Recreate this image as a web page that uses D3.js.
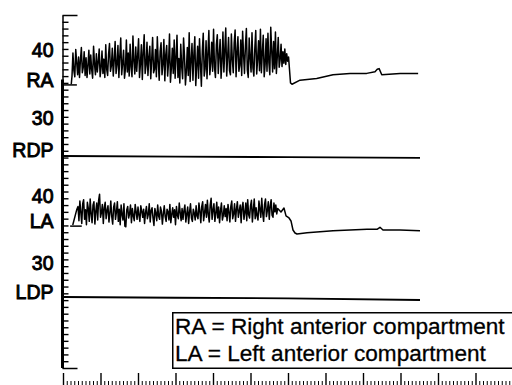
<!DOCTYPE html>
<html>
<head>
<meta charset="utf-8">
<script src="https://cdn.jsdelivr.net/npm/d3@7"></script>
<style>
  html, body { margin: 0; padding: 0; background: #fff; }
  svg { display: block; }
  text { font-family: "Liberation Sans", Arial, Helvetica, sans-serif; fill: #000; }
</style>
</head>
<body>
<figure id="trace" style="margin:0"></figure>
<script>
// time axis in minutes, one major tick each minute
const majorTicks = d3.range(0, 13);
const minorTicks = d3.range(0, 120).map(d => d / 10).filter(d => d % 1 !== 0);

// RA channel (right anterior), mmHg
const raStart = [[0, 34.9], [0.37, 34.9]];
const raNoiseT0 = 0.24, raNoiseDt = 0.025;
const raNoise = [
  36.2, 39.6, 37.0, 36.1, 40.1, 38.2, 36.4, 39.0, 36.0, 38.6, 40.4, 36.7, 37.5, 39.8, 36.3, 38.9,
  36.0, 37.8, 40.0, 36.5, 39.3, 37.1, 35.9, 40.6, 38.0, 36.4, 39.5, 36.8, 38.3, 40.2, 36.1, 37.4,
  39.9, 36.6, 38.7, 36.0, 40.8, 37.2, 36.3, 39.4, 41.0, 36.9, 37.7, 40.3, 36.2, 38.5, 41.3, 36.6,
  37.9, 40.7, 36.0, 39.2, 41.8, 36.4, 38.1, 40.0, 35.9, 37.3, 41.5, 36.8, 39.6, 36.2, 40.9, 37.6,
  36.1, 42.1, 38.4, 36.5, 40.5, 36.9, 39.1, 41.7, 36.0, 38.0, 40.8, 35.7, 39.7, 42.3, 36.6, 37.8,
  41.2, 36.3, 39.0, 40.6, 35.8, 38.6, 41.9, 36.7, 37.2, 40.1, 36.1, 42.0, 38.3, 35.6, 39.8, 41.1,
  36.4, 37.9, 41.6, 35.5, 39.3, 40.7, 36.2, 38.2, 42.4, 35.3, 37.4, 40.3, 36.6, 41.5, 35.9, 39.0,
  42.2, 36.0, 38.8, 35.2, 40.9, 37.6, 35.8, 41.8, 39.1, 34.9, 37.0, 40.4, 36.3, 42.6, 35.4, 38.5,
  41.0, 35.6, 39.4, 42.0, 34.8, 37.7, 40.6, 35.9, 41.7, 38.0, 34.7, 39.9, 42.5, 36.2, 37.3, 41.4,
  35.8, 39.6, 42.9, 36.4, 38.1, 41.2, 36.9, 43.1, 37.5, 36.0, 40.8, 42.3, 36.6, 39.2, 41.6, 35.9,
  38.4, 42.7, 36.8, 40.1, 43.3, 36.2, 39.0, 41.9, 37.0, 36.4, 42.4, 38.6, 36.7, 41.1, 43.0, 36.1,
  39.7, 42.0, 36.9, 37.8, 41.5, 36.3, 42.8, 39.3, 36.6, 40.7, 43.2, 37.1, 36.0, 41.8, 38.9, 36.8,
  42.6, 37.4, 36.2, 40.3, 42.9, 36.5, 38.7, 41.4, 37.0, 43.1, 36.7, 39.6, 42.2, 36.1, 37.9, 41.7,
  36.9, 42.5, 38.2, 36.4, 43.4, 40.0, 36.8, 41.3, 37.3, 42.7, 36.6, 39.1, 41.9, 37.5, 38.6, 40.9,
  37.6, 39.8, 38.1, 40.2, 37.9, 39.5, 38.4, 39.0
];
const raTail = [
  [6.067, 35.2], [6.107, 35.0], [6.32, 35.6], [6.765, 35.85], [7.2, 36.4],
  [7.653, 36.6], [8.1, 36.6], [8.32, 36.85], [8.38, 37.2], [8.43, 37.3],
  [8.5, 36.4], [8.99, 36.6], [9.47, 36.6]
];
const rdp = [[0, 24.43], [3, 24.35], [6, 24.25], [9.52, 24.14]];

// LA channel (left anterior), mmHg
const laStart = [[0.19, 35.5], [0.5, 35.5]];
const laRamp = [[0.26, 35.67], [0.365, 37.9]];
const laNoiseT0 = 0.4, laNoiseDt = 0.025;
const laNoise = [
  38.4, 36.3, 39.2, 37.6, 35.9, 38.8, 39.4, 36.5, 37.9, 35.7, 39.0, 38.1, 36.2, 39.5, 37.3, 36.0,
  38.6, 39.1, 35.8, 37.7, 38.9, 36.4, 39.3, 40.2, 36.8, 37.5, 38.7, 35.9, 38.2, 39.0, 36.6, 37.8,
  38.5, 36.1, 37.4, 39.2, 36.9, 35.8, 38.3, 38.9, 36.5, 37.6, 39.1, 36.2, 38.0, 35.7, 38.6, 37.2,
  36.4, 38.8, 35.5, 35.4, 37.9, 38.4, 36.7, 37.3, 38.6, 36.0, 38.1, 37.0, 36.3, 38.7, 37.6, 36.5,
  38.3, 37.1, 36.2, 38.5, 37.7, 36.8, 38.0, 35.9, 37.5, 38.4, 36.6, 37.2, 38.8, 36.1, 37.8, 38.2,
  36.7, 35.6, 38.1, 37.4, 36.3, 38.6, 37.0, 36.5, 38.3, 37.7, 35.8, 37.3, 38.5, 36.9, 36.2, 38.0,
  37.6, 36.4, 38.7, 36.0, 37.2, 38.2, 36.8, 37.9, 35.7, 38.4, 37.1, 36.6, 38.9, 37.5, 36.3, 38.1,
  36.5, 37.8, 38.6, 36.1, 37.3, 38.3, 35.9, 37.6, 38.8, 36.7, 36.2, 38.0, 37.4, 36.4, 38.5, 37.0,
  36.6, 38.9, 37.7, 36.0, 38.4, 39.1, 36.3, 37.5, 38.7, 36.8, 39.3, 37.2, 36.1, 38.6, 39.6, 36.5,
  37.9, 38.8, 36.2, 37.4, 39.0, 36.7, 38.3, 36.0, 37.8, 38.9, 36.4, 37.1, 38.5, 36.9, 38.1, 36.3,
  38.7, 37.6, 36.1, 38.4, 39.2, 36.6, 37.3, 38.8, 36.2, 38.0, 39.1, 36.8, 37.7, 38.6, 36.0, 38.3,
  39.0, 36.5, 37.5, 38.9, 36.3, 39.4, 37.2, 36.7, 38.5, 39.3, 36.1, 37.9, 39.5, 36.6, 38.2, 37.0,
  36.4, 39.2, 38.0, 36.8, 39.6, 37.4, 36.2, 38.7, 39.5, 36.9, 37.8, 39.1, 36.5, 38.4, 39.4, 37.1,
  36.8, 38.9, 37.6, 38.6, 37.3, 38.1
];
const laTail = [
  [5.813, 37.58], [5.893, 38.17], [5.947, 37.0], [6.027, 36.7], [6.08, 36.26],
  [6.133, 34.93], [6.187, 34.49], [6.24, 34.34], [6.507, 34.53], [6.853, 34.68],
  [7.2, 34.83], [7.653, 34.93], [8.107, 35.03], [8.373, 35.03], [8.453, 35.33],
  [8.533, 34.93], [8.987, 34.93], [9.52, 34.83]
];
const ldp = [[0, 25.06], [3, 24.95], [6, 24.85], [9.52, 24.62]];

// scale marks and channel names down the left side
const raLabels = [["40", 40], ["RA", 35.7], ["30", 30], ["RDP", 25.3]];
const laLabels = [["40", 40], ["LA", 36.3], ["30", 30], ["LDP", 25.8]];

const legendLines = ["RA = Right anterior compartment", "LA = Left anterior compartment"];

const width = 512, height = 385;
const axisX = 62.5, axisTop = 15, axisBottom = 368;

const svg = d3.select("figure#trace")
  .append("svg")
  .attr("width", width)
  .attr("height", height);

const x = d3.scaleLinear().domain([0, 12]).range([63, 513]);
// one tick per mmHg, both channels share the same strip
const yTicks = d3.scaleLinear().domain([0, 52]).range([axisBottom, axisTop]);
const yRA = d3.scaleLinear().domain([-6.8, 45.2]).range([axisBottom, axisTop]);
const yLA = d3.scaleLinear().domain([14.6, 66.6]).range([axisBottom, axisTop]);

// left pressure axis
const leftAxis = svg.append("g")
  .attr("transform", "translate(" + axisX + ",0)")
  .call(d3.axisRight(yTicks).tickValues(d3.range(1, 52)).tickSize(6).tickSizeOuter(0).tickFormat(""));
leftAxis.selectAll("line").attr("stroke-width", 1.4);
leftAxis.select(".domain").attr("stroke-width", 1.5);

svg.append("g")
  .attr("transform", "translate(" + axisX + ",0)")
  .call(d3.axisRight(yTicks).tickValues([0, 52]).tickSize(15).tickSizeOuter(0).tickFormat(""))
  .call(g => g.select(".domain").remove())
  .selectAll("line").attr("stroke-width", 1.5);

svg.append("line")
  .attr("x1", axisX).attr("x2", axisX)
  .attr("y1", yTicks(42.5)).attr("y2", axisBottom)
  .attr("stroke", "#000").attr("stroke-width", 3);

// bottom time axis, ticks pointing up from the bottom edge
const xAxis = svg.append("g")
  .attr("transform", "translate(0,386)")
  .call(d3.axisTop(x).tickValues(majorTicks).tickSize(13).tickSizeOuter(0).tickFormat(""));
xAxis.selectAll("line").attr("stroke-width", 1.4);
xAxis.select(".domain").remove();

svg.append("g")
  .attr("transform", "translate(0,386)")
  .call(d3.axisTop(x).tickValues(minorTicks).tickSize(5).tickSizeOuter(0).tickFormat(""))
  .call(g => g.select(".domain").remove())
  .selectAll("line").attr("stroke-width", 1);

// channel labels
function drawLabels(labels, y) {
  svg.append("g").selectAll("text")
    .data(labels)
    .enter()
    .append("text")
    .attr("x", 53.5)
    .attr("y", d => y(d[1]))
    .attr("dy", "0.36em")
    .attr("text-anchor", "end")
    .style("font-size", "19.5px")
    .style("stroke", "#000")
    .style("stroke-width", 0.9)
    .text(d => d[0]);
}
drawLabels(raLabels, yRA);
drawLabels(laLabels, yLA);

// traces
function drawTrace(points, y, w) {
  svg.append("path")
    .datum(points)
    .attr("fill", "none")
    .attr("stroke", "#000")
    .attr("stroke-width", w)
    .attr("stroke-linejoin", "round")
    .attr("d", d3.line().x(d => x(d[0])).y(d => y(d[1])));
}

const raNoisePts = raNoise.map((v, i) => [raNoiseT0 + i * raNoiseDt, v]);
const laNoisePts = laNoise.map((v, i) => [laNoiseT0 + i * laNoiseDt, v]);

drawTrace(raStart, yRA, 1.5);
drawTrace([[0.22, 35.0]].concat(raNoisePts, raTail), yRA, 1.5);
drawTrace(rdp, yRA, 1.8);

drawTrace(laStart, yLA, 1.5);
drawTrace(laRamp.concat(laNoisePts, laTail), yLA, 1.5);
drawTrace(ldp, yLA, 1.8);

// legend box
const legend = svg.append("g");
legend.append("rect")
  .attr("x", 172.75).attr("y", 312.75)
  .attr("width", 360).attr("height", 55.5)
  .attr("fill", "#fff")
  .attr("stroke", "#000")
  .attr("stroke-width", 1.5);

legend.selectAll("text")
  .data(legendLines)
  .enter()
  .append("text")
  .attr("x", 175)
  .attr("y", (d, i) => 333.5 + i * 27)
  .style("font-size", "22.6px")
  .style("stroke", "#000")
  .style("stroke-width", 0.3)
  .text(d => d);
</script>
</body>
</html>
